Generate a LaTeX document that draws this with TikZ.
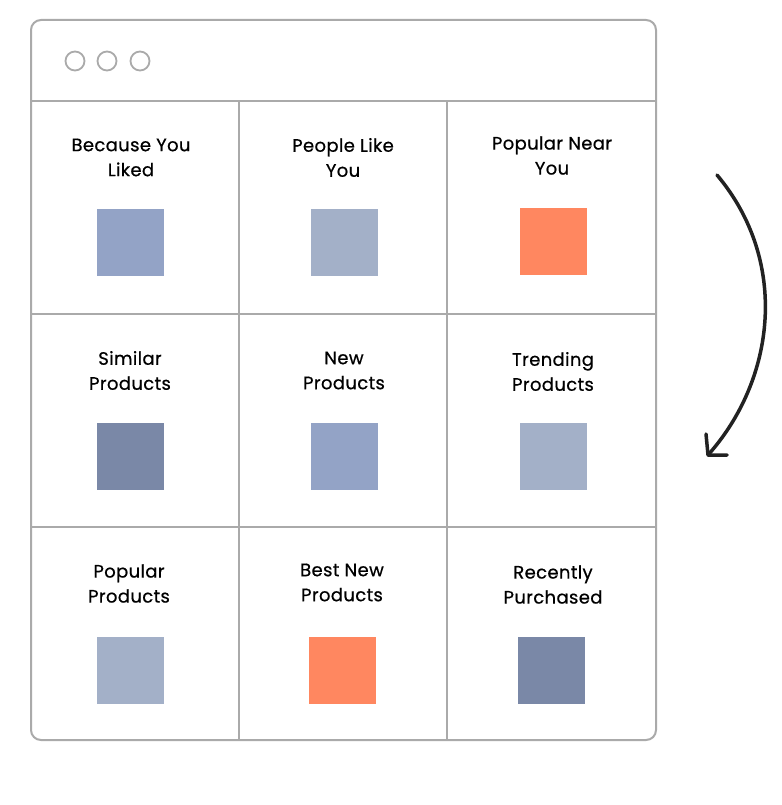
\documentclass[tikz,border=0pt]{standalone}
\usepackage{fontspec}
\setmainfont{Poppins}[FakeBold=0.6,LetterSpace=2]
\usetikzlibrary{arrows.meta}
\definecolor{frame}{HTML}{AAAAAA}
\definecolor{blueA}{HTML}{93A3C6}
\definecolor{blueB}{HTML}{A3B0C8}
\definecolor{blueC}{HTML}{7A88A7}
\definecolor{orangeA}{HTML}{FF8760}
\definecolor{ink}{HTML}{222222}
\tikzset{
  win/.style={draw=frame, line width=2pt, rounded corners=10pt, fill=white},
  gridline/.style={draw=frame, line width=2pt},
  dot/.style={circle, draw=frame, line width=1.8pt, minimum size=19pt, inner sep=0pt},
  tile/.style={minimum width=67pt, minimum height=67pt, inner sep=0pt, draw=none},
  lbl/.style={align=center, font=\fontsize{18}{25}\selectfont, text=black, inner sep=0pt},
  flow/.style={draw=ink, line width=3.5pt, line cap=round, line join=round}
}
\begin{document}
\begin{tikzpicture}[x=1pt,y=-1pt]
\useasboundingbox (0,0) rectangle (781,805);
\fill[white] (0,0) rectangle (781,805);
\draw[win] (31,20) rectangle (656,740);
\draw[gridline] (31,101) -- (656,101);
\draw[gridline] (239,101) -- (239,740);
\draw[gridline] (447,101) -- (447,740);
\draw[gridline] (31,314) -- (656,314);
\draw[gridline] (31,527) -- (656,527);
\node[dot] (d1) at (75,61) {};
\node[dot] (d2) at (107,61) {};
\node[dot] (d3) at (140,61) {};
% row 1
\node[lbl] (t11) at (131,157.5) {Because You\\Liked};
\node[lbl] (t12) at (343,157.5) {People Like\\You};
\node[lbl] (t13) at (552,155.5) {Popular Near\\You};
\node[tile, fill=blueA] (s11) at (130.5,242) {};
\node[tile, fill=blueB] (s12) at (344.5,242) {};
\node[tile, fill=orangeA] (s13) at (553.5,241) {};
% row 2
\node[lbl] (t21) at (130,370.5) {Similar\\Products};
\node[lbl] (t22) at (344,370.5) {New\\Products};
\node[lbl] (t23) at (553,371.5) {Trending\\Products};
\node[tile, fill=blueC] (s21) at (130.5,456) {};
\node[tile, fill=blueA] (s22) at (344.5,456) {};
\node[tile, fill=blueB] (s23) at (553.5,456) {};
% row 3
\node[lbl] (t31) at (129,583.5) {Popular\\Products};
\node[lbl] (t32) at (342,582.5) {Best New\\Products};
\node[lbl] (t33) at (553,584.5) {Recently\\Purchased};
\node[tile, fill=blueB] (s31) at (130.5,670) {};
\node[tile, fill=orangeA] (s32) at (342.5,670) {};
\node[tile, fill=blueC] (s33) at (551.5,670) {};
% arrow
\coordinate (a0) at (717,175);
\coordinate (a1) at (708,455);
\coordinate (b1) at (706,434);
\coordinate (b2) at (727,455);
\draw[flow] (a0) .. controls (790,262) and (775,380) .. (a1);
\draw[flow] (b1) -- (a1) -- (b2);
\end{tikzpicture}
\end{document}
